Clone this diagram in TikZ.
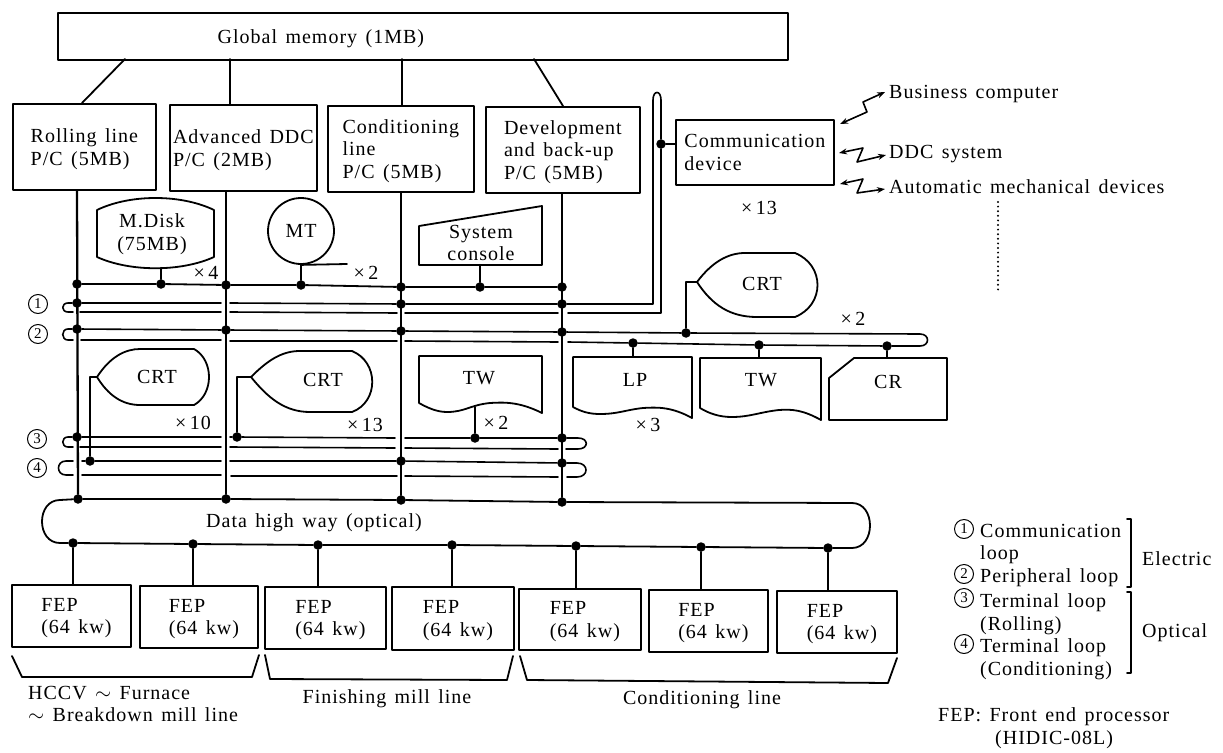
\documentclass[tikz,border=0pt]{standalone}
\usepackage{fontspec}
\usetikzlibrary{arrows.meta}
\setmainfont{Liberation Serif}[LetterSpace=5,WordSpace=1.4]
\newcommand{\feptext}{\hspace*{10pt}FEP\\\hspace*{10pt}(64 kw)}
\begin{document}
\begin{tikzpicture}[x=1pt, y=-1pt, line join=round, line cap=round, >={Stealth[length=8pt,width=6pt]}, font=\fontsize{20}{22.5}\selectfont,
	outline/.style={line width=1.8pt},
	wire/.style={line width=1.6pt},
	riser/.style={line width=2.3pt},
	boxnode/.style={draw, outline, align=left, anchor=north west, inner sep=0, text depth=0pt},
	lbl/.style={inner sep=0, anchor=west, align=left, text depth=0pt},
	txt/.style={inner sep=0, align=center, text depth=0pt},
	dot/.style={circle, fill=black, inner sep=0, minimum size=9.5},
	loopnum/.style={circle, draw, line width=1pt, inner sep=0, minimum size=19, font=\fontsize{15}{15}\selectfont}]
	\useasboundingbox (0,0) rectangle (1223,752);
	\node[boxnode, minimum width=730, minimum height=47] (global) at (57,12) {Global memory (1MB)\hspace*{204pt}};
	\node[boxnode, minimum width=143, minimum height=86] (rolling) at (12,103) {Rolling line\\P/C (5MB)};
	\node[boxnode, minimum width=147, minimum height=86] (advanced) at (169,104) {Advanced DDC\\P/C (2MB)};
	\node[boxnode, minimum width=146, minimum height=86] (conditioning) at (327,105) {Conditioning\\line\\P/C (5MB)};
	\node[boxnode, minimum width=154, minimum height=86] (development) at (485,106) {Development\\and back-up\\P/C (5MB)};
	\node[boxnode, minimum width=158, minimum height=65] (comm) at (675,119) {Communication\\device};
	\coordinate (gma) at (125,59);
	\coordinate (gmb) at (230,59);
	\coordinate (gmc) at (402,59);
	\coordinate (gmd) at (534,59);
	\coordinate (rola) at (82,103);
	\coordinate (deva) at (563,106);
	\draw[outline] (gma) -- (rola);
	\draw[outline] (gmb) -- (gmb |- advanced.north);
	\draw[outline] (gmc) -- (gmc |- conditioning.north);
	\draw[outline] (gmd) -- (deva);
	\node[dot] (a0) at (77,284) {};
	\node[dot] (a1) at (77,303) {};
	\node[dot] (a2) at (77,329) {};
	\node[dot] (a3) at (77,437) {};
	\node[dot] (a5) at (78,499) {};
	\node[dot] (b0) at (226,285) {};
	\node[dot] (b2) at (226,330) {};
	\node[dot] (b5) at (226,499) {};
	\node[dot] (c0) at (401,287) {};
	\node[dot] (c1) at (401,304) {};
	\node[dot] (c2) at (401,331) {};
	\node[dot] (c4) at (401,461) {};
	\node[dot] (c5) at (401,500) {};
	\node[dot] (e0) at (562,287) {};
	\node[dot] (e1) at (562,304) {};
	\node[dot] (e2) at (562,332) {};
	\node[dot] (e3) at (562,438) {};
	\node[dot] (e4) at (562,463) {};
	\node[dot] (e5) at (562,502) {};
	\draw[riser] (rolling.south -| a0) -- (a5);
	\draw[riser] (advanced.south -| b0) -- (b5);
	\draw[riser] (conditioning.south -| c0) -- (c5);
	\draw[riser] (development.south -| e0) -- (e5);
	\node[dot] (mdot) at (161,284) {};
	\node[dot] (tdot) at (301,285) {};
	\node[dot] (sdot) at (480,287) {};
	\draw[outline] (a0) -- (mdot) -- (b0) -- (tdot) -- (c0) -- (sdot) -- (e0);
	\draw[outline] (97,210) .. controls (130,194) and (181,194) .. (214,210) -- (214,257) .. controls (181,272) and (130,272) .. (97,257) -- cycle;
	\node[txt] (mdisk) at (152,232) {M.Disk\\(75MB)};
	\coordinate (mdiskb) at (161,268);
	\draw[riser] (mdiskb) -- (mdot);
	\node[txt] at (206,273) {×\,4};
	\node[circle, draw, outline, inner sep=0, minimum size=66] (mt) at (301,231) {MT};
	\coordinate (mttail) at (347,264);
	\draw[riser] (mt.south) -- (tdot);
	\draw[outline] (mt.south) -- (mttail);
	\node[txt] at (366,273) {×\,2};
	\draw[outline] (419,226) -- (542,206) -- (542,265) -- (419,265) -- cycle;
	\node[txt] (console) at (481,243) {System\\console};
	\coordinate (consoleb) at (480,265);
	\draw[riser] (consoleb) -- (sdot);
	\coordinate (l1a) at (68,303);
	\coordinate (l1b) at (68,312);
	\coordinate (l1c) at (73,312);
	\coordinate (l1d) at (221,303);
	\coordinate (l1e) at (230,303);
	\coordinate (l1f) at (653,304);
	\coordinate (l1g) at (653,100);
	\coordinate (l1h) at (661,100);
	\coordinate (l1i) at (568,313);
	\coordinate (l1j) at (558,313);
	\coordinate (l1k) at (405,313);
	\coordinate (l1l) at (397,313);
	\coordinate (l1m) at (230,312);
	\coordinate (l1n) at (221,312);
	\coordinate (l1o) at (80,312);
	\node[dot] (cdot) at (661,144) {};
	\draw[wire] (l1c) -- (l1b) .. controls (61,312) and (61,303) .. (l1a) -- (a1) -- (l1d);
	\draw[wire] (l1e) -- (c1) -- (e1) -- (l1f) -- (l1g) .. controls (653,90) and (661,90) .. (l1h) -- (cdot) -- (l1h |- l1i) -- (l1i);
	\draw[wire] (l1j) -- (l1k);
	\draw[wire] (l1l) -- (l1m);
	\draw[wire] (l1n) -- (l1o);
	\draw[outline] (cdot) -- (cdot -| comm.west);
	\coordinate (l2a) at (68,329);
	\coordinate (l2b) at (68,340);
	\coordinate (l2c) at (73,340);
	\coordinate (l2d) at (81,340);
	\coordinate (l2e) at (221,340);
	\coordinate (l2f) at (230,341);
	\coordinate (l2g) at (397,341);
	\coordinate (l2h) at (405,341);
	\coordinate (l2i) at (558,342);
	\coordinate (l2j) at (568,342);
	\coordinate (l2k) at (920,334);
	\coordinate (l2l) at (920,346);
	\node[dot] (rdot) at (686,333) {};
	\node[dot] (lpdot) at (633,343) {};
	\node[dot] (twdot) at (759,345) {};
	\node[dot] (crdot) at (887,346) {};
	\draw[wire] (l2c) -- (l2b) .. controls (61,340) and (61,329) .. (l2a) -- (a2) -- (b2) -- (c2) -- (e2) -- (rdot) -- (l2k) .. controls (930,334) and (930,346) .. (l2l) -- (crdot) -- (twdot) -- (lpdot) -- (l2j);
	\draw[wire] (l2i) -- (l2h);
	\draw[wire] (l2g) -- (l2f);
	\draw[wire] (l2e) -- (l2d);
	\draw[outline] (697,282) .. controls (712,262) and (728,253) .. (745,253) -- (795,253) .. controls (825,265) and (825,305) .. (795,317) -- (757,317) .. controls (730,317) and (712,305) .. (697,282) -- cycle;
	\node[txt] (crt3) at (762,284) {CRT};
	\coordinate (crt3tip) at (697,282);
	\draw[wire] (crt3tip) -| (rdot);
	\node[txt] at (853,319) {×\,2};
	\draw[outline] (573,357) -- (692,357) -- (692,418) .. controls (672,407) and (658,407) .. (643,408) .. controls (625,410) and (618,414) .. (600,414) .. controls (590,414) and (582,412) .. (573,407) -- cycle;
	\node[txt] (lp) at (635,380) {LP};
	\coordinate (lptop) at (633,357);
	\draw[outline] (lpdot) -- (lptop);
	\node[txt] at (648,425) {×\,3};
	\draw[outline] (700,358) -- (821,358) -- (821,420) .. controls (803,410) and (792,409) .. (779,410) .. controls (760,412) and (750,417) .. (732,417) .. controls (720,417) and (710,414) .. (700,408) -- cycle;
	\node[txt] (tw2) at (761,380) {TW};
	\coordinate (tw2top) at (759,358);
	\draw[outline] (twdot) -- (tw2top);
	\draw[outline] (854,358) -- (947,358) -- (947,420) -- (829,420) -- (829,378) -- cycle;
	\node[txt] (cr) at (888,382) {CR};
	\coordinate (crtop) at (887,358);
	\draw[outline] (crdot) -- (crtop);
	\coordinate (l3a) at (68,437);
	\coordinate (l3b) at (68,447);
	\coordinate (l3c) at (73,447);
	\coordinate (l3d) at (80,447);
	\coordinate (l3e) at (221,447);
	\coordinate (l3f) at (230,447);
	\coordinate (l3g) at (395,448);
	\coordinate (l3h) at (405,448);
	\coordinate (l3i) at (558,449);
	\coordinate (l3j) at (566,449);
	\coordinate (l3k) at (578,449);
	\coordinate (l3l) at (578,438);
	\coordinate (l3m) at (405,438);
	\coordinate (l3n) at (395,438);
	\coordinate (l3o) at (230,437);
	\coordinate (l3p) at (221,437);
	\node[dot] (crt2dot) at (237,437) {};
	\node[dot] (tw1dot) at (475,438) {};
	\draw[wire] (l3c) -- (l3b) .. controls (61,447) and (61,437) .. (l3a) -- (a3) -- (l3p);
	\draw[wire] (l3o) -- (crt2dot) -- (l3n);
	\draw[wire] (l3m) -- (tw1dot) -- (e3) -- (l3l) .. controls (589,438) and (589,449) .. (l3k) -- (l3j);
	\draw[wire] (l3i) -- (l3h);
	\draw[wire] (l3g) -- (l3f);
	\draw[wire] (l3e) -- (l3d);
	\coordinate (l4a) at (73,461);
	\coordinate (l4b) at (66,461);
	\coordinate (l4c) at (66,475);
	\coordinate (l4d) at (73,475);
	\coordinate (l4e) at (82,461);
	\coordinate (l4f) at (221,461);
	\coordinate (l4g) at (230,461);
	\coordinate (l4h) at (577,463);
	\coordinate (l4i) at (577,477);
	\coordinate (l4j) at (567,477);
	\coordinate (l4k) at (558,477);
	\coordinate (l4l) at (405,476);
	\coordinate (l4m) at (397,476);
	\coordinate (l4n) at (231,476);
	\coordinate (l4o) at (221,475);
	\coordinate (l4p) at (82,475);
	\node[dot] (crt1dot) at (90,461) {};
	\draw[wire] (l4a) -- (l4b) .. controls (56,461) and (56,475) .. (l4c) -- (l4d);
	\draw[wire] (l4e) -- (crt1dot) -- (l4f);
	\draw[wire] (l4g) -- (c4) -- (e4) -- (l4h) .. controls (589,463) and (589,477) .. (l4i) -- (l4j);
	\draw[wire] (l4k) -- (l4l);
	\draw[wire] (l4m) -- (l4n);
	\draw[wire] (l4o) -- (l4p);
	\draw[outline] (97,377) .. controls (110,357) and (125,349) .. (140,349) -- (194,349) .. controls (214,360) and (214,394) .. (194,405) -- (140,405) .. controls (122,405) and (108,395) .. (97,377) -- cycle;
	\node[txt] (crt1) at (157,377) {CRT};
	\coordinate (crt1tip) at (97,377);
	\draw[wire] (crt1tip) -| (crt1dot);
	\node[txt] at (193,423) {×\,10};
	\draw[outline] (251,377) .. controls (268,360) and (282,351) .. (300,351) -- (352,351) .. controls (379,362) and (379,402) .. (352,412) -- (310,412) .. controls (285,412) and (268,398) .. (251,377) -- cycle;
	\node[txt] (crt2) at (323,380) {CRT};
	\coordinate (crt2tip) at (251,377);
	\draw[outline] (crt2tip) -| (crt2dot);
	\node[txt] at (365,425) {×\,13};
	\draw[outline] (419,356) -- (542,356) -- (542,413) .. controls (520,402) and (505,402) .. (490,403) .. controls (470,405) and (465,412) .. (447,412) .. controls (437,412) and (428,408) .. (419,403) -- cycle;
	\node[txt] (tw1) at (479,378) {TW};
	\coordinate (tw1b) at (475,407);
	\draw[outline] (tw1b) -- (tw1dot);
	\node[txt] at (496,423) {×\,2};
	\node[loopnum] (n1) at (38,304) {1};
	\node[loopnum] (n2) at (38,334) {2};
	\node[loopnum] (n3) at (37,439) {3};
	\node[loopnum] (n4) at (37,468) {4};
	\node[dot] (g1) at (73,543) {};
	\node[dot] (g2) at (193,544) {};
	\node[dot] (g3) at (318,545) {};
	\node[dot] (g4) at (452,545) {};
	\node[dot] (g5) at (576,546) {};
	\node[dot] (g6) at (701,547) {};
	\node[dot] (g7) at (828,548) {};
	\coordinate (hwa) at (60,500);
	\coordinate (hwb) at (852,503);
	\coordinate (hwc) at (852,548);
	\coordinate (hwd) at (60,543);
	\draw[outline] (hwa) -- (a5) -- (b5) -- (c5) -- (e5) -- (hwb) .. controls (876,503) and (876,548) .. (hwc) -- (g7) -- (g6) -- (g5) -- (g4) -- (g3) -- (g2) -- (g1) -- (hwd) .. controls (36,543) and (36,500) .. (hwa);
	\node[txt] (highway) at (314,521) {Data high way (optical)};
	\node[boxnode, minimum width=119, minimum height=62] (f1) at (11,584) {\feptext};
	\node[boxnode, minimum width=118, minimum height=62] (f2) at (139,585) {\feptext};
	\node[boxnode, minimum width=121, minimum height=62] (f3) at (264,586) {\feptext};
	\node[boxnode, minimum width=122, minimum height=63] (f4) at (391,586) {\feptext};
	\node[boxnode, minimum width=122, minimum height=61] (f5) at (518,588) {\feptext};
	\node[boxnode, minimum width=119, minimum height=62] (f6) at (648,589) {\feptext};
	\node[boxnode, minimum width=120, minimum height=62] (f7) at (776,590) {\feptext};
	\draw[outline] (g1) -- (g1 |- f1.north);
	\draw[outline] (g2) -- (g2 |- f2.north);
	\draw[outline] (g3) -- (g3 |- f3.north);
	\draw[outline] (g4) -- (g4 |- f4.north);
	\draw[outline] (g5) -- (g5 |- f5.north);
	\draw[outline] (g6) -- (g6 |- f6.north);
	\draw[outline] (g7) -- (g7 |- f7.north);
	\draw[outline] (12,656) -- (22,677) -- (252,677) -- (259,655);
	\draw[outline] (265,655) -- (270,679) -- (507,680) -- (513,656);
	\draw[outline] (520,656) -- (527,680) -- (888,683) -- (897,658);
	\node[lbl] (hccv) at (28,704) {HCCV $\sim$ Furnace\\$\sim$ Breakdown mill line};
	\node[txt] (finishing) at (387,697) {Finishing mill line};
	\node[txt] (condline) at (702,698) {Conditioning line};
	\node[lbl] (business) at (889,92) {Business computer};
	\node[lbl] (ddc) at (889,152) {DDC system};
	\node[lbl] (auto) at (889,187) {Automatic mechanical devices};
	\coordinate (ba) at (840,124);
	\coordinate (bb) at (867,112);
	\coordinate (bc) at (863,102);
	\coordinate (bd) at (885,92);
	\coordinate (da) at (839,153);
	\coordinate (db) at (863,148);
	\coordinate (dc) at (857,162);
	\coordinate (dd) at (886,155);
	\coordinate (aa) at (840,184);
	\coordinate (ab) at (863,179);
	\coordinate (ac) at (857,193);
	\coordinate (ad) at (885,189);
	\draw[<->, wire] (ba) -- (bb) -- (bc) -- (bd);
	\draw[<->, wire] (da) -- (db) -- (dc) -- (dd);
	\draw[<->, wire] (aa) -- (ab) -- (ac) -- (ad);
	\coordinate (dota) at (998,202);
	\coordinate (dotb) at (998,293);
	\draw[line width=2.2pt, dash pattern=on 0pt off 4.6pt] (dota) -- (dotb);
	\node[txt] at (759,208) {×\,13};
	\node[loopnum] (k1) at (964,529) {1};
	\node[loopnum] (k2) at (964,574) {2};
	\node[loopnum] (k3) at (964,598) {3};
	\node[loopnum] (k4) at (964,644) {4};
	\node[lbl] (key1) at (980,542) {Communication\\loop};
	\node[lbl] (key2) at (980,576) {Peripheral loop};
	\node[lbl] (key3) at (980,612) {Terminal loop\\(Rolling)};
	\node[lbl] (key4) at (980,657) {Terminal loop\\(Conditioning)};
	\draw[wire] (1127,519) -- (1131,519) -- (1131,587) -- (1127,587);
	\draw[wire] (1127,592) -- (1131,592) -- (1131,673) -- (1127,673);
	\node[lbl] (electric) at (1142,559) {Electric};
	\node[lbl] (optical) at (1142,631) {Optical};
	\node[lbl] (fepnote) at (938,726) {FEP: Front end processor\\\hspace*{57pt}(HIDIC-08L)};
\end{tikzpicture}
\end{document}
